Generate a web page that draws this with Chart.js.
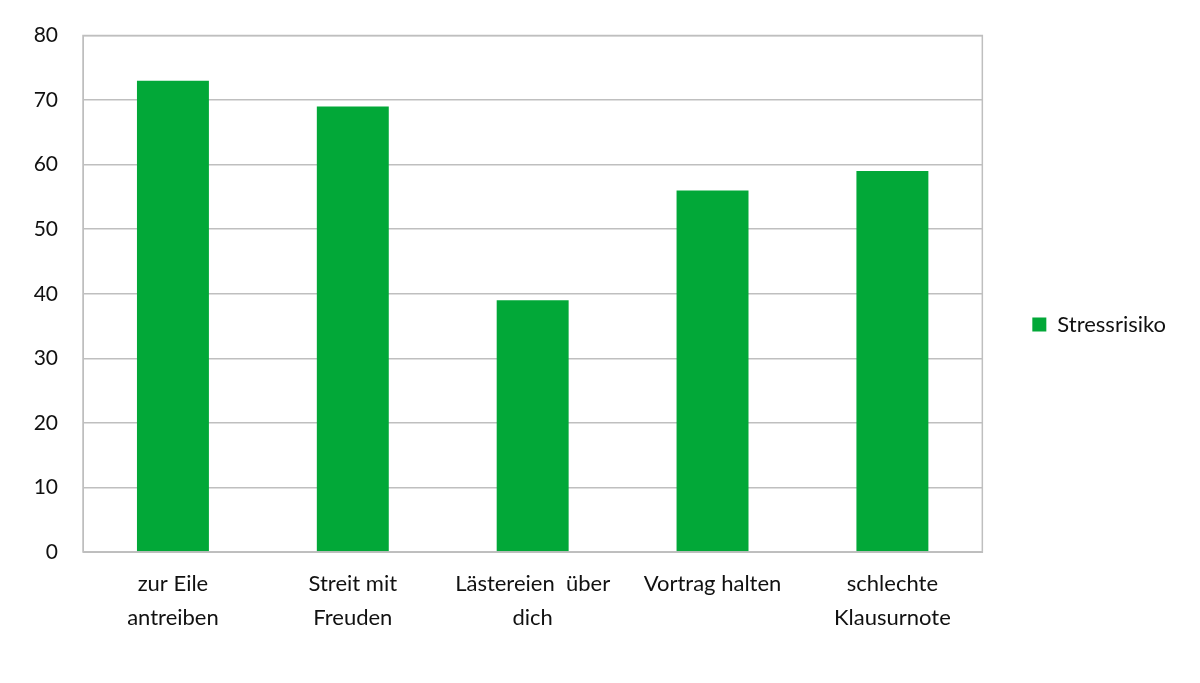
<!DOCTYPE html>
<html><head><meta charset="utf-8">
<script src="https://cdn.jsdelivr.net/npm/chart.js@4"></script>
<style>html,body{margin:0;padding:0;background:#fff}#wrap{width:1200px;height:683px}</style>
</head><body><div id="wrap"><canvas id="c" width="1200" height="683"></canvas></div>
<script>
const categories = [["zur Eile","antreiben"],["Streit mit","Freuden"],["Lästereien  über","dich"],["Vortrag halten"],["schlechte","Klausurnote"]];
const seriesName = "Stressrisiko";
const stressValues = [73, 69, 39, 56, 59];
const yTicks = [0,10,20,30,40,50,60,70,80];

const FONT = 'Lato, "Open Sans", sans-serif';
const borderPlugin = {
  id:'borderBox',
  afterDatasetsDraw(chart){
    const a = chart.chartArea, ctx = chart.ctx;
    ctx.save();
    ctx.strokeStyle = '#bfbfbf'; ctx.lineWidth = 1.5;
    ctx.strokeRect(a.left, a.top, a.right-a.left, a.bottom-a.top);
    ctx.restore();
  }
};

new Chart(document.getElementById('c'), {
  type:'bar',
  data:{labels:categories, datasets:[{label:seriesName, data:stressValues, backgroundColor:'#02A838', borderWidth:0, barPercentage:0.4, categoryPercentage:1}]},
  options:{
    responsive:false, animation:false,
    layout:{padding:{left:0,right:24,top:-8,bottom:26}},
    plugins:{
      legend:{position:'right', maxWidth:210, labels:{font:{family:FONT, size:22}, color:'#111', boxWidth:14, boxHeight:14, padding:50}},
      tooltip:{enabled:false}
    },
    scales:{
      x:{grid:{display:false, drawTicks:false}, border:{color:'#bfbfbf'},
         ticks:{font:{family:FONT, size:22, lineHeight:1.55}, color:'#111', padding:15, maxRotation:0, autoSkip:false},
         afterFit(s){ s.height = 683-552-26; }},
      y:{min:0,max:80, grid:{color:'#bfbfbf', lineWidth:1.5, drawTicks:false}, border:{color:'#bfbfbf'},
         afterBuildTicks(s){ s.ticks = yTicks.map(v=>({value:v})); },
         ticks:{font:{family:FONT, size:21, lineHeight:1}, color:'#111', padding:25},
         afterFit(s){ s.width = 83; }}
    }
  },
  plugins:[borderPlugin]
});
</script></body></html>
